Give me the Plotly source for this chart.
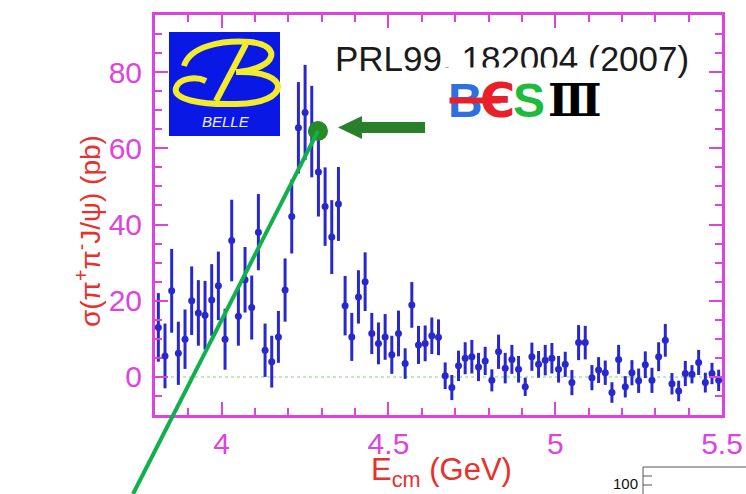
import plotly.graph_objects as go

# ---------------- data ----------------
E_cm = [3.81, 3.83, 3.85, 3.87, 3.89, 3.91, 3.93, 3.95, 3.97, 3.99,
        4.01, 4.03, 4.05, 4.07, 4.09, 4.11, 4.13, 4.15, 4.17, 4.19,
        4.21, 4.23, 4.25, 4.27, 4.29, 4.31, 4.33, 4.35, 4.37, 4.39,
        4.41, 4.43, 4.45, 4.47, 4.49, 4.51, 4.53, 4.55, 4.57, 4.59,
        4.61, 4.63, 4.65, 4.67, 4.69, 4.71, 4.73, 4.75, 4.77, 4.79,
        4.81, 4.83, 4.85, 4.87, 4.89, 4.91, 4.93, 4.95, 4.97, 4.99,
        5.01, 5.03, 5.05, 5.07, 5.09, 5.11, 5.13, 5.15, 5.17, 5.19,
        5.21, 5.23, 5.25, 5.27, 5.29, 5.31, 5.33, 5.35, 5.37, 5.39,
        5.41, 5.43, 5.45, 5.47, 5.49]
sigma = [13.0, 5.5, 22.6, 6.2, 9.9, 20.0, 16.8, 16.2, 20.2, 23.9,
         9.9, 35.8, 15.9, 25.5, 18.2, 38.0, 7.0, 4.0, 10.5, 22.8,
         42.1, 65.4, 69.4, 64.4, 53.8, 44.7, 36.7, 45.4, 18.7, 10.5,
         21.0, 25.0, 11.4, 8.8, 10.5, 5.8, 11.4, 3.5, 18.9, 8.4,
         8.8, 10.8, 10.4, 0.3, -2.8, 2.9, 4.9, 5.3, 2.6, 4.2,
         -0.9, 6.6, 2.3, 4.6, 2.0, -2.6, 5.3, 3.3, 4.4, 4.9,
         2.0, 3.3, -1.5, 9.0, 9.0, -0.2, 1.8, 1.1, -4.1, 4.6,
         -2.6, 1.1, -1.0, 3.2, -0.9, 5.3, 9.6, -1.8, -3.7, 0.9,
         0.7, 3.8, -1.5, 0.9, -0.9]
sigma_err = [9.0, 8.5, 11.0, 8.3, 7.8, 9.0, 8.6, 9.0, 9.4, 9.0,
             8.0, 10.7, 7.7, 8.6, 8.4, 10.0, 7.0, 6.8, 6.8, 8.3,
             9.7, 12.0, 12.5, 12.0, 11.7, 10.3, 9.7, 9.7, 7.8, 6.3,
             7.0, 7.7, 5.4, 5.5, 6.0, 5.0, 6.0, 4.0, 6.0, 5.0,
             4.7, 4.8, 4.7, 3.5, 3.3, 4.0, 4.2, 4.4, 3.7, 3.7,
             2.9, 4.5, 4.0, 3.8, 3.5, 2.4, 3.7, 3.5, 4.0, 4.0,
             3.5, 3.3, 3.3, 4.6, 4.4, 3.3, 3.4, 3.2, 2.7, 3.8,
             2.8, 3.3, 3.2, 3.5, 3.3, 3.8, 4.3, 2.8, 2.7, 3.3,
             2.4, 3.3, 2.6, 2.8, 2.8]
x_range = [3.8, 5.5]
y_range = [-10, 95]
x_ticks = [4, 4.5, 5, 5.5]
x_ticktext = ["4", "4.5", "5", "5.5"]
y_ticks = [0, 20, 40, 60, 80]
y_ticktext = ["0", "20", "40", "60", "80"]

# ---------------- layout geometry ----------------
W, H = 746, 494
L, R, T, B = 155, 722, 15, 415
MAG = "#dd44dd"
RED = "#e8302c"
BLUE = "rgb(40,40,205)"


def pp(x, y):
    return (x - L) / (R - L), (B - y) / (B - T)


def path(cmds):
    out = []
    for c in cmds:
        if isinstance(c, str):
            out.append(c)
        else:
            xp, yp = pp(*c)
            out.append(f"{xp:.4f},{yp:.4f}")
    return " ".join(out)


fig = go.Figure()
fig.add_trace(go.Scatter(
    x=E_cm, y=sigma, mode="markers",
    marker=dict(color=BLUE, size=7),
    error_y=dict(type="data", array=sigma_err, color=BLUE, thickness=3, width=0),
    showlegend=False, hoverinfo="x+y"))

shapes = []
# dotted green baseline at zero
shapes.append(dict(type="line", xref="x", yref="y", x0=x_range[0] + 0.03, x1=x_range[1],
                   y0=0, y1=0, line=dict(color="#a6e6a0", width=1.5, dash="dot"), layer="below"))
# Belle logo box
x0, y0 = pp(169, 32); x1, y1 = pp(280, 136)
shapes.append(dict(type="rect", xref="paper", yref="paper", x0=x0, y0=y1, x1=x1, y1=y0,
                   fillcolor="#0a18e6", line=dict(width=0)))
YEL = "#f2ec2a"
shapes.append(dict(type="path", xref="paper", yref="paper",
                   path=path(["M", (184, 66), "C", (190, 46), (222, 40), (250, 42),
                              "C", (282, 45), (278, 68), (238, 72)]),
                   line=dict(color=YEL, width=6)))
shapes.append(dict(type="path", xref="paper", yref="paper",
                   path=path(["M", (246, 44), "L", (216, 101)]),
                   line=dict(color=YEL, width=6)))
shapes.append(dict(type="path", xref="paper", yref="paper",
                   path=path(["M", (236, 72), "C", (294, 70), (290, 104), (236, 104),
                              "C", (198, 105), (173, 99), (176, 88),
                              "C", (179, 78), (196, 76), (206, 81)]),
                   line=dict(color=YEL, width=6)))
# green arrow
DG = "#2a7f2a"
shapes.append(dict(type="path", xref="paper", yref="paper",
                   path=path(["M", (356, 122), "L", (425, 122), "L", (425, 133), "L", (356, 133), "Z"]),
                   fillcolor=DG, line=dict(width=0)))
shapes.append(dict(type="path", xref="paper", yref="paper",
                   path=path(["M", (338, 127.5), "L", (362, 116), "L", (362, 139), "Z"]),
                   fillcolor=DG, line=dict(width=0)))
# green circle
cx0, cy0 = pp(308, 121); cx1, cy1 = pp(328, 141)
shapes.append(dict(type="circle", xref="paper", yref="paper", x0=cx0, y0=cy1, x1=cx1, y1=cy0,
                   fillcolor="#268a26", line=dict(width=0)))
# long green line
lx0, ly0 = pp(318, 131); lx1, ly1 = pp(133, 494)
shapes.append(dict(type="line", xref="paper", yref="paper", x0=lx0, y0=ly0, x1=lx1, y1=ly1,
                   line=dict(color="#12b04c", width=4)))
# inset box at bottom right
ix0, iy0 = pp(643, 467); ix1, iy1 = pp(800, 560)
shapes.append(dict(type="rect", xref="paper", yref="paper", x0=ix0, y0=iy1, x1=ix1, y1=iy0,
                   line=dict(color="#555555", width=1)))
for ty in (476, 485):
    tx0, tyy = pp(643, ty); tx1, _ = pp(652, ty)
    shapes.append(dict(type="line", xref="paper", yref="paper", x0=tx0, y0=tyy, x1=tx1, y1=tyy,
                       line=dict(color="#555555", width=1)))

ann = []


def a(text, x, y, size, color, family="Liberation Sans, Arial", xanchor="center",
      yanchor="middle", **kw):
    xp, yp = pp(x, y)
    d = dict(text=text, x=xp, y=yp, xref="paper", yref="paper", showarrow=False,
             font=dict(size=size, color=color, family=family),
             xanchor=xanchor, yanchor=yanchor)
    d.update(kw)
    ann.append(d)


a("PRL99, 182004 (2007)", 333, 58, 35, "#1a1a1a", xanchor="left")
# white backdrop of BESIII logo
a(" ", 523, 99, 10, "white", width=158, height=62, bgcolor="white", borderpad=0)
a("<b>B</b>", 465, 100, 48, "#2f6fe0")
a("<b>Є</b>", 497, 100, 48, "#e8202a", family="DejaVu Sans")
a("<b>S</b>", 529, 100, 48, "#1cbb3c")
a("<b>Ⅲ</b>", 575, 100, 44, "#000000", family="DejaVu Serif")
# red crossbar across the B
a(" ", 475, 100, 4, "white", width=50, height=5, bgcolor="#e8202a", borderpad=0)
a("<i>BELLE</i>", 226, 121, 15, "#eeeeee")
a("σ(π<sup>+</sup>π<sup>-</sup>J/ψ) (pb)", 88, 231, 28, RED, textangle=-90)
a("E<sub>cm</sub> (GeV)", 441, 472, 31, RED)
a("100", 640, 484, 15, "#111111", xanchor="right")

fig.update_layout(
    width=W, height=H,
    margin=dict(l=L, r=W - R, t=T, b=H - B, autoexpand=False),
    paper_bgcolor="white", plot_bgcolor="white",
    shapes=shapes, annotations=ann,
    font=dict(family="Liberation Sans, Arial", color=MAG),
    xaxis=dict(range=x_range, tickvals=x_ticks, ticktext=x_ticktext, automargin=False,
               ticks="inside", ticklen=13, tickwidth=2, tickcolor=MAG,
               minor=dict(ticks="inside", dtick=0.1, ticklen=7, tickwidth=2, tickcolor=MAG),
               showline=True, linecolor=MAG, linewidth=3, mirror="allticks",
               showgrid=False, zeroline=False,
               tickfont=dict(size=30, color=MAG)),
    yaxis=dict(range=y_range, tickvals=y_ticks, ticktext=y_ticktext, automargin=False,
               ticks="inside", ticklen=13, tickwidth=2, tickcolor=MAG,
               minor=dict(ticks="inside", dtick=5, ticklen=7, tickwidth=2, tickcolor=MAG),
               showline=True, linecolor=MAG, linewidth=3, mirror="allticks",
               showgrid=False, zeroline=False, ticklabelstandoff=4,
               tickfont=dict(size=30, color=MAG)),
)

fig.write_html("out.html")
